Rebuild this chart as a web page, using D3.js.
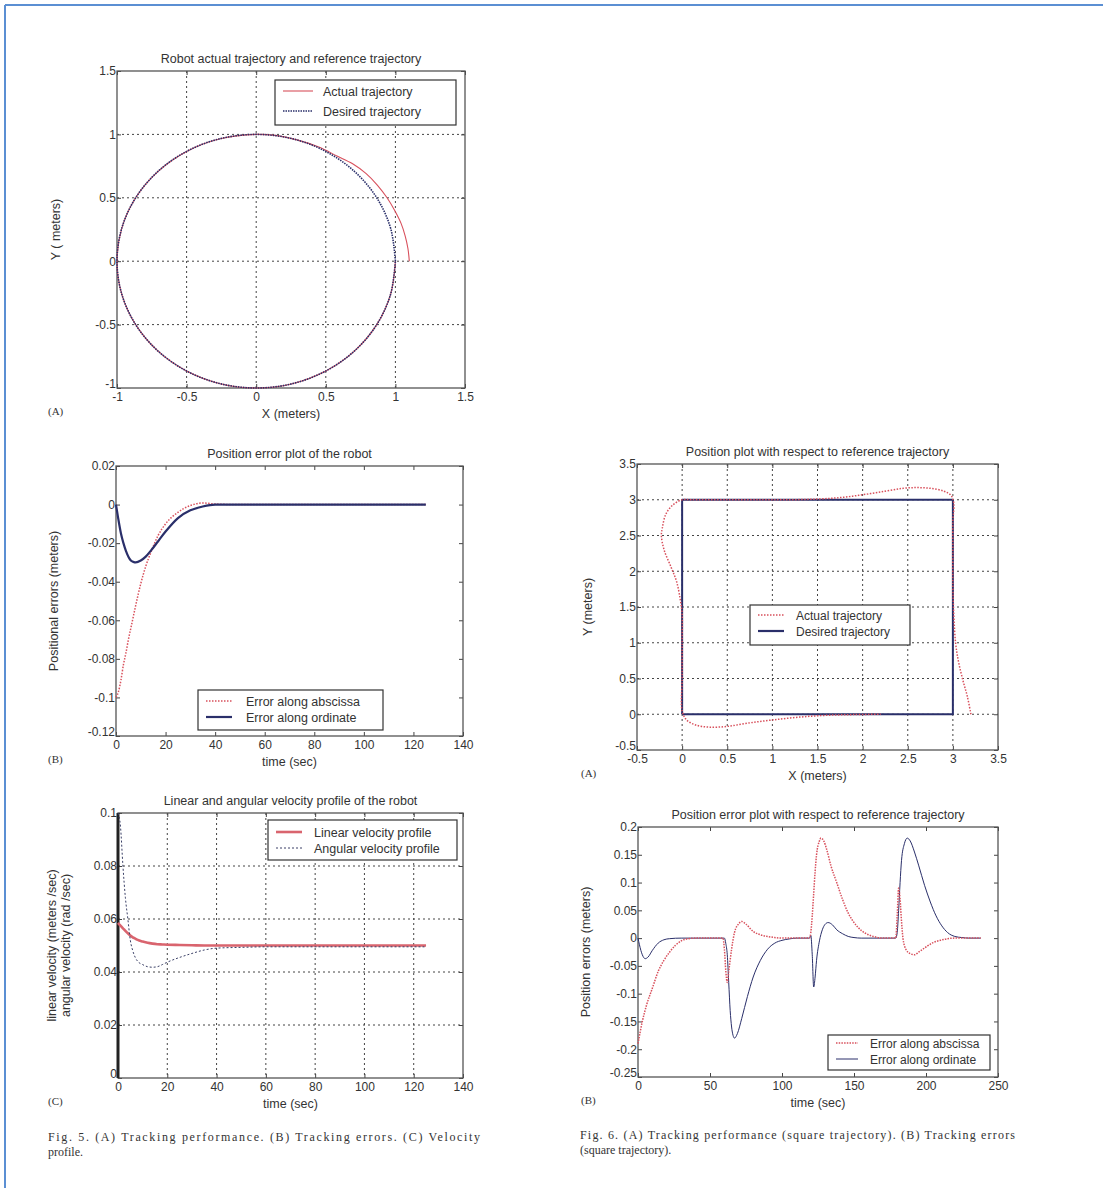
<!DOCTYPE html>
<html>
<head>
<meta charset="utf-8">
<script src="https://cdn.jsdelivr.net/npm/d3@7"></script>
<style>
  body { margin: 0; background: #fff; }
  svg text { font-family: "Liberation Sans", Arial, sans-serif; fill: #333; }
  .serif { font-family: "Liberation Serif", "Times New Roman", serif !important; }
</style>
</head>
<body>
<svg id="fig" width="1103" height="1188"></svg>
<script>
// ---- Fig 5 (A): circular trajectory ----
const circleDesiredX = [1, 0.966, 0.866, 0.707, 0.5, 0.259, 0, -0.259, -0.5, -0.707, -0.866, -0.966, -1,
  -0.966, -0.866, -0.707, -0.5, -0.259, 0, 0.259, 0.5, 0.707, 0.866, 0.966, 1];
const circleDesiredY = [0, 0.259, 0.5, 0.707, 0.866, 0.966, 1, 0.966, 0.866, 0.707, 0.5, 0.259, 0,
  -0.259, -0.5, -0.707, -0.866, -0.966, -1, -0.966, -0.866, -0.707, -0.5, -0.259, 0];
const circleActualX = [1.1, 1.09, 1.07, 1.04, 0.995, 0.94, 0.87, 0.79, 0.69, 0.58, 0.45, 0.3, 0.15, 0, -0.259, -0.5,
  -0.707, -0.866, -0.966, -1, -0.966, -0.866, -0.707, -0.5, -0.259, 0, 0.259, 0.5, 0.707, 0.866, 0.966, 1];
const circleActualY = [0, 0.1, 0.2, 0.3, 0.4, 0.5, 0.6, 0.69, 0.77, 0.83, 0.9, 0.955, 0.99, 1, 0.966, 0.866,
  0.707, 0.5, 0.259, 0, -0.259, -0.5, -0.707, -0.866, -0.966, -1, -0.966, -0.866, -0.707, -0.5, -0.259, 0];
const circleTicks = [-1, -0.5, 0, 0.5, 1, 1.5];

// ---- Fig 5 (B): position errors ----
const errTime = [0, 1, 2, 3, 4, 5, 6, 7, 8, 10, 12, 14, 17, 20, 25, 30, 35, 40, 50, 60, 80, 100, 125];
const errAbscissa = [-0.1, -0.097, -0.091, -0.083, -0.077, -0.07, -0.064, -0.058, -0.052, -0.041, -0.032, -0.025,
  -0.016, -0.01, -0.004, -0.0005, 0.0008, 0.0003, 0, 0, 0, 0, 0];
const errOrdinate = [0, -0.008, -0.015, -0.02, -0.024, -0.027, -0.029, -0.0297, -0.03, -0.029, -0.027, -0.024,
  -0.019, -0.014, -0.007, -0.003, -0.001, 0, 0, 0, 0, 0, 0];
const timeTicks140 = [0, 20, 40, 60, 80, 100, 120, 140];
const errTicks = [-0.12, -0.1, -0.08, -0.06, -0.04, -0.02, 0, 0.02];

// ---- Fig 5 (C): velocity profile ----
const velTime = [0, 1, 2, 3, 4, 5, 6, 7, 8, 10, 12, 14, 16, 18, 20, 25, 30, 35, 40, 50, 60, 80, 100, 125];
const linVel = [0.0585, 0.0575, 0.0565, 0.0555, 0.0546, 0.0538, 0.0531, 0.0526, 0.0521, 0.0515, 0.051, 0.0507,
  0.0505, 0.0504, 0.0503, 0.0502, 0.0501, 0.05, 0.05, 0.05, 0.05, 0.05, 0.05, 0.05];
const angVel = [0.1, 0.095, 0.08, 0.068, 0.06, 0.052, 0.048, 0.0455, 0.044, 0.0428, 0.042, 0.0418, 0.042, 0.0428,
  0.0437, 0.0455, 0.047, 0.0483, 0.049, 0.0493, 0.0495, 0.0495, 0.0495, 0.0495];
const velTicks = [0, 0.02, 0.04, 0.06, 0.08, 0.1];

// ---- Fig 6 (A): square trajectory ----
const squareDesiredX = [0, 3, 3, 0, 0];
const squareDesiredY = [0, 0, 3, 3, 0];
const squareActualX = [3.2, 3.16, 3.11, 3.06, 3.03, 3.01, 3.0, 3.0, 3.0, 3.01, 2.98, 2.9, 2.75, 2.6, 2.45, 2.25,
  2.0, 1.75, 1.5, 1.2, 0.9, 0.5, 0.1, 0, -0.1, -0.18, -0.22, -0.23, -0.2, -0.12, -0.06, -0.02, 0, 0, 0, 0,
  0.05, 0.15, 0.3, 0.5, 0.75, 1.0, 1.3, 1.6, 1.9, 2.2];
const squareActualY = [0, 0.25, 0.48, 0.75, 1.0, 1.4, 1.8, 2.3, 2.7, 2.95, 3.06, 3.12, 3.16, 3.17, 3.16, 3.12,
  3.07, 3.03, 3.01, 3.0, 3.0, 3.0, 3.0, 3.0, 2.93, 2.8, 2.6, 2.5, 2.3, 2.05, 1.85, 1.6, 1.4, 1.0, 0.5, 0.05,
  -0.08, -0.15, -0.18, -0.17, -0.12, -0.08, -0.04, -0.015, -0.005, 0];
const squareTicks = [-0.5, 0, 0.5, 1, 1.5, 2, 2.5, 3, 3.5];

// ---- Fig 6 (B): square trajectory errors ----
const sqErrTimeX = [0, 3, 6, 10, 14, 18, 22, 26, 30, 35, 40, 59, 60, 61, 62, 63, 65, 67, 70, 72, 75, 80, 85, 90,
  95, 100, 119, 120, 121, 122, 123, 124, 126, 127, 129, 131, 134, 138, 142, 146, 150, 155, 160, 165, 170,
  179, 180, 181, 182, 183, 184, 186, 189, 192, 195, 200, 205, 210, 215, 220, 238];
const sqErrX = [-0.19, -0.15, -0.12, -0.09, -0.06, -0.04, -0.025, -0.013, -0.005, -0.001, 0, 0, -0.02, -0.06,
  -0.08, -0.06, -0.02, 0.01, 0.026, 0.03, 0.025, 0.012, 0.006, 0.003, 0.001, 0, 0, 0.01, 0.04, 0.08, 0.12,
  0.15, 0.175, 0.18, 0.175, 0.16, 0.13, 0.1, 0.07, 0.045, 0.028, 0.014, 0.006, 0.002, 0, 0, 0.04, 0.09, 0.07,
  0.03, 0, -0.02, -0.028, -0.03, -0.025, -0.016, -0.008, -0.004, -0.001, 0, 0];
const sqErrTimeY = [0, 1, 3, 5, 7, 10, 14, 18, 22, 30, 60, 61, 62, 63, 64, 65, 66, 67, 69, 72, 76, 80, 85, 90,
  95, 100, 105, 110, 119, 120, 121, 122, 123, 124, 126, 128, 130, 132, 135, 138, 142, 146, 150, 155,
  179, 180, 181, 182, 183, 185, 187, 189, 192, 195, 199, 203, 207, 211, 215, 220, 225, 230, 238];
const sqErrY = [0, -0.012, -0.03, -0.037, -0.034, -0.022, -0.009, -0.003, -0.001, 0, 0, -0.01, -0.03, -0.08,
  -0.13, -0.16, -0.175, -0.18, -0.172, -0.145, -0.105, -0.07, -0.04, -0.02, -0.009, -0.004, -0.0015, 0,
  0, 0.005, -0.03, -0.088, -0.07, -0.04, -0.005, 0.015, 0.025, 0.028, 0.024, 0.015, 0.008, 0.003, 0.001, 0,
  0, 0.01, 0.05, 0.1, 0.14, 0.17, 0.18, 0.175, 0.155, 0.13, 0.095, 0.065, 0.04, 0.022, 0.01, 0.003, 0.001, 0, 0];
const timeTicks250 = [0, 50, 100, 150, 200, 250];
const sqErrTicks = [-0.25, -0.2, -0.15, -0.1, -0.05, 0, 0.05, 0.1, 0.15, 0.2];

const RED = "#d8505c";
const NAVY = "#2a2f6a";

const svg = d3.select("#fig");

// page border (top + left only)
svg.append("line").attr("x1", 5).attr("x2", 1103).attr("y1", 5).attr("y2", 5)
  .attr("stroke", "#5b8fd3").attr("stroke-width", 2);
svg.append("line").attr("x1", 5).attr("x2", 5).attr("y1", 5).attr("y2", 1188)
  .attr("stroke", "#5b8fd3").attr("stroke-width", 2);

const fmt = (d) => String(d);

function panel(o) {
  const x = d3.scaleLinear().domain(o.xDomain).range([o.left, o.right]);
  const y = d3.scaleLinear().domain(o.yDomain).range([o.bottom, o.top]);
  const g = svg.append("g");

  if (o.grid) {
    g.append("g").selectAll("line").data(o.xTicks.slice(1, -1)).enter().append("line")
      .attr("x1", (d) => x(d)).attr("x2", (d) => x(d))
      .attr("y1", o.top).attr("y2", o.bottom)
      .attr("stroke", "#444").attr("stroke-dasharray", "2,3");
    g.append("g").selectAll("line").data(o.yTicks.slice(1, -1)).enter().append("line")
      .attr("y1", (d) => y(d)).attr("y2", (d) => y(d))
      .attr("x1", o.left).attr("x2", o.right)
      .attr("stroke", "#444").attr("stroke-dasharray", "2,3");
  }

  const bottom = g.append("g").attr("transform", `translate(0,${o.bottom})`)
    .call(d3.axisBottom(x).tickValues(o.xTicks).tickFormat(fmt).tickSize(-4).tickSizeOuter(0).tickPadding(4));
  const left = g.append("g").attr("transform", `translate(${o.left},0)`)
    .call(d3.axisLeft(y).tickValues(o.yTicks).tickFormat(fmt).tickSize(-4).tickSizeOuter(0).tickPadding(1));
  const top = g.append("g").attr("transform", `translate(0,${o.top})`)
    .call(d3.axisTop(x).tickValues(o.xTicks).tickFormat("").tickSize(-4).tickSizeOuter(0));
  const right = g.append("g").attr("transform", `translate(${o.right},0)`)
    .call(d3.axisRight(y).tickValues(o.yTicks).tickFormat("").tickSize(-4).tickSizeOuter(0));
  [bottom, left, top, right].forEach((a) => {
    a.select(".domain").remove();
    a.selectAll("line").attr("stroke", "#444");
    a.selectAll("text").style("font-size", "12px").attr("fill", "#333");
  });
  // lowest y label sits just above the corner so it clears the x label
  left.selectAll("text").filter((d) => d === o.yDomain[0]).attr("dy", "-0.05em");

  g.append("rect").attr("x", o.left).attr("y", o.top)
    .attr("width", o.right - o.left).attr("height", o.bottom - o.top)
    .attr("fill", "none").attr("stroke", "#555").attr("stroke-width", 1.3);

  // title, axis labels, panel letter
  g.append("text").attr("x", (o.left + o.right) / 2).attr("y", o.top - 8)
    .attr("text-anchor", "middle").style("font-size", "12.5px").text(o.title);
  g.append("text").attr("x", (o.left + o.right) / 2).attr("y", o.bottom + 30)
    .attr("text-anchor", "middle").style("font-size", "12.5px").text(o.xLabel);
  o.yLabel.forEach((lab, i) => {
    g.append("text")
      .attr("transform", `translate(${o.yLabelX + i * 14},${(o.top + o.bottom) / 2}) rotate(-90)`)
      .attr("text-anchor", "middle").style("font-size", "12.5px").text(lab);
  });
  g.append("text").attr("class", "serif").attr("x", o.letterX).attr("y", o.bottom + 27)
    .style("font-size", "11px").text(o.letter);

  return { g, x, y };
}

function drawLine(p, xs, ys, style, curve) {
  const line = d3.line().x((d) => p.x(d[0])).y((d) => p.y(d[1])).curve(curve || d3.curveLinear);
  p.g.append("path").datum(d3.zip(xs, ys))
    .attr("d", line).attr("fill", "none")
    .attr("stroke", style.stroke).attr("stroke-width", style.width)
    .attr("stroke-dasharray", style.dash || null)
    .attr("stroke-linejoin", "round");
}

function legend(p, box, items, size) {
  p.g.append("rect").attr("x", box[0]).attr("y", box[1]).attr("width", box[2]).attr("height", box[3])
    .attr("fill", "#fff").attr("stroke", "#333").attr("stroke-width", 1.2);
  items.forEach((it, i) => {
    const yy = box[1] + box[4] + i * box[5];
    p.g.append("line").attr("x1", box[0] + 8).attr("x2", box[0] + 8 + box[6])
      .attr("y1", yy).attr("y2", yy)
      .attr("stroke", it.stroke).attr("stroke-width", it.width).attr("stroke-dasharray", it.dash || null);
    p.g.append("text").attr("x", box[0] + 8 + box[6] + box[7]).attr("y", yy + 4.5)
      .style("font-size", size + "px").text(it.label);
  });
}

// ---- Fig 5 A ----
const pA = panel({
  left: 117, right: 465, top: 71, bottom: 388,
  xDomain: [-1, 1.5], yDomain: [-1, 1.5], xTicks: circleTicks, yTicks: circleTicks, grid: true,
  title: "Robot actual trajectory and reference trajectory", xLabel: "X (meters)",
  yLabel: ["Y ( meters)"], yLabelX: 60, letter: "(A)", letterX: 48
});
drawLine(pA, circleActualX, circleActualY, { stroke: RED, width: 1.1 }, d3.curveCatmullRom);
drawLine(pA, circleDesiredX, circleDesiredY, { stroke: NAVY, width: 1.6, dash: "1.5,1" }, d3.curveCatmullRomClosed);
legend(pA, [275, 80, 181, 45, 11, 20, 30, 10], [
  { label: "Actual trajectory", stroke: RED, width: 1.1 },
  { label: "Desired trajectory", stroke: NAVY, width: 1.6, dash: "1.5,1" }
], 12.5);

// ---- Fig 5 B ----
const pB = panel({
  left: 116, right: 463, top: 466, bottom: 736,
  xDomain: [0, 140], yDomain: [-0.12, 0.02], xTicks: timeTicks140, yTicks: errTicks, grid: false,
  title: "Position error plot of the robot", xLabel: "time (sec)",
  yLabel: ["Positional errors (meters)"], yLabelX: 58, letter: "(B)", letterX: 48
});
drawLine(pB, errTime, errAbscissa, { stroke: RED, width: 1.5, dash: "1.5,1.5" }, d3.curveMonotoneX);
drawLine(pB, errTime, errOrdinate, { stroke: NAVY, width: 2.2 }, d3.curveMonotoneX);
legend(pB, [198, 690, 185, 40, 11, 16, 26, 14], [
  { label: "Error along abscissa", stroke: RED, width: 1.5, dash: "1.5,1.5" },
  { label: "Error along ordinate", stroke: NAVY, width: 2.2 }
], 12.5);

// ---- Fig 5 C ----
const pC = panel({
  left: 118, right: 463, top: 813, bottom: 1078,
  xDomain: [0, 140], yDomain: [0, 0.1], xTicks: timeTicks140, yTicks: velTicks, grid: true,
  title: "Linear and angular velocity profile of the robot", xLabel: "time (sec)",
  yLabel: ["linear velocity (meters /sec)", "angular velocity (rad /sec)"], yLabelX: 56,
  letter: "(C)", letterX: 48
});
pC.g.append("line").attr("x1", pC.x(0)).attr("x2", pC.x(0)).attr("y1", pC.y(0)).attr("y2", pC.y(0.1))
  .attr("stroke", "#222").attr("stroke-width", 3);
drawLine(pC, velTime, linVel, { stroke: "#d9646e", width: 2.6 }, d3.curveMonotoneX);
drawLine(pC, velTime, angVel, { stroke: "#3a3f66", width: 1, dash: "2,2" }, d3.curveMonotoneX);
legend(pC, [268, 820, 189, 40, 12, 16, 26, 12], [
  { label: "Linear velocity profile", stroke: "#d9646e", width: 2.6 },
  { label: "Angular velocity profile", stroke: "#3a3f66", width: 1, dash: "2,2" }
], 12.5);

// ---- Fig 6 A ----
const pD = panel({
  left: 637, right: 998, top: 464, bottom: 750,
  xDomain: [-0.5, 3.5], yDomain: [-0.5, 3.5], xTicks: squareTicks, yTicks: squareTicks, grid: true,
  title: "Position plot with respect to reference trajectory", xLabel: "X (meters)",
  yLabel: ["Y (meters)"], yLabelX: 592, letter: "(A)", letterX: 581
});
drawLine(pD, squareDesiredX, squareDesiredY, { stroke: NAVY, width: 2 });
drawLine(pD, squareActualX, squareActualY, { stroke: RED, width: 1.5, dash: "1.5,1.5" }, d3.curveCatmullRom);
legend(pD, [750, 605, 160, 40, 10, 16, 26, 12], [
  { label: "Actual trajectory", stroke: RED, width: 1.5, dash: "1.5,1.5" },
  { label: "Desired trajectory", stroke: NAVY, width: 2.2 }
], 12);

// ---- Fig 6 B ----
const pE = panel({
  left: 638, right: 998, top: 827, bottom: 1077,
  xDomain: [0, 250], yDomain: [-0.25, 0.2], xTicks: timeTicks250, yTicks: sqErrTicks, grid: false,
  title: "Position error plot with respect to reference trajectory", xLabel: "time (sec)",
  yLabel: ["Position errors (meters)"], yLabelX: 590, letter: "(B)", letterX: 581
});
drawLine(pE, sqErrTimeY, sqErrY, { stroke: NAVY, width: 1 }, d3.curveMonotoneX);
drawLine(pE, sqErrTimeX, sqErrX, { stroke: RED, width: 1.5, dash: "1.5,1.2" }, d3.curveMonotoneX);
legend(pE, [828, 1035, 162, 35, 8, 16, 22, 12], [
  { label: "Error along abscissa", stroke: RED, width: 1.5, dash: "1.5,1.2" },
  { label: "Error along ordinate", stroke: NAVY, width: 1 }
], 12);

// ---- captions ----
const caps = [
  { x: 48, y: 1141, t: "Fig. 5. (A) Tracking performance. (B) Tracking errors. (C) Velocity", len: 432 },
  { x: 48, y: 1156, t: "profile.", len: null },
  { x: 580, y: 1139, t: "Fig. 6. (A) Tracking performance (square trajectory). (B) Tracking errors", len: 435 },
  { x: 580, y: 1154, t: "(square trajectory).", len: null }
];
caps.forEach((c) => {
  const t = svg.append("text").attr("class", "serif").attr("x", c.x).attr("y", c.y)
    .style("font-size", "12px").attr("fill", "#444").text(c.t);
  if (c.len) t.attr("textLength", c.len).attr("lengthAdjust", "spacing");
});
</script>
</body>
</html>
